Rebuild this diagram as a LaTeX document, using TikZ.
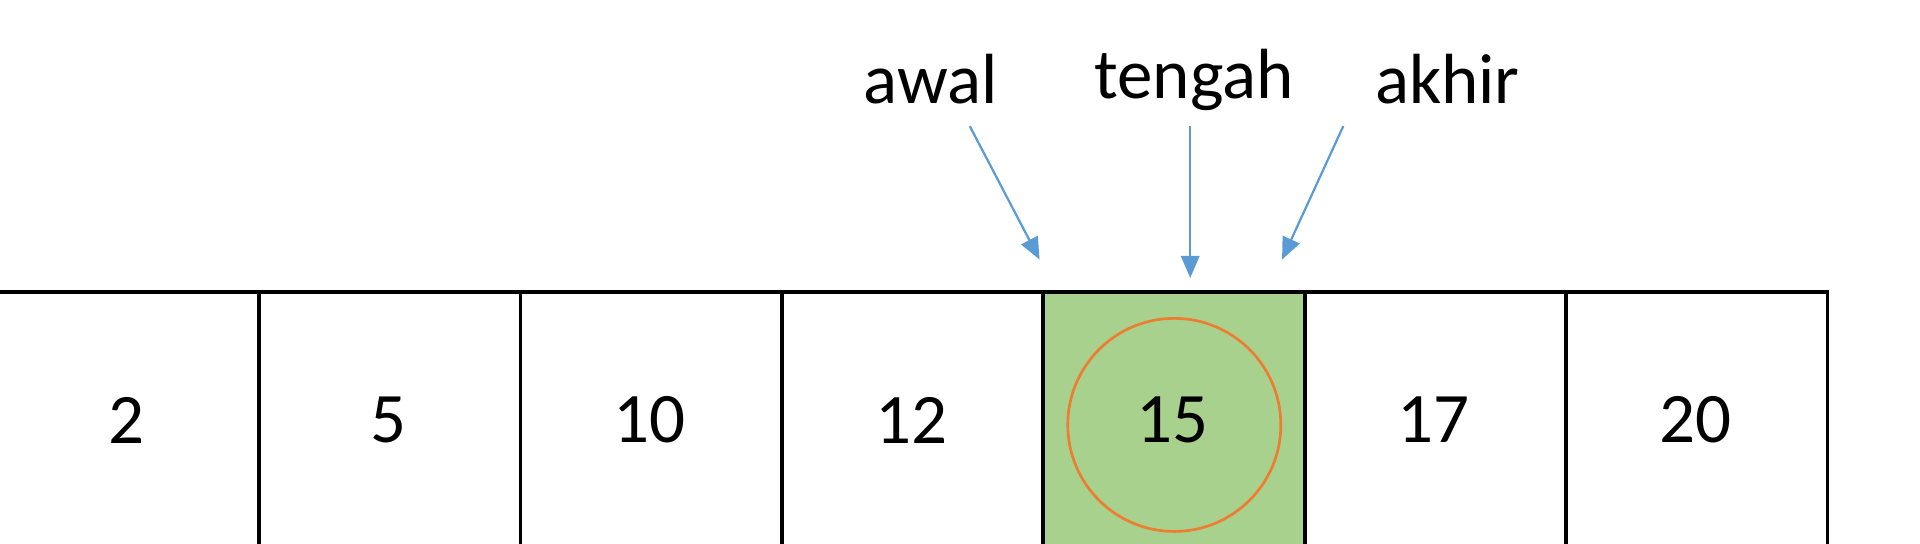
\documentclass[tikz,border=0pt]{standalone}
\usepackage{fontspec}
\setmainfont{Carlito}
\usetikzlibrary{arrows.meta}
\definecolor{cgreen}{RGB}{169,209,142}
\definecolor{corange}{RGB}{237,125,49}
\definecolor{cblue}{RGB}{91,155,213}
\begin{document}
\begin{tikzpicture}[x=1pt,y=-1pt,
  cell/.style={draw=black,line width=3pt,minimum width=213.5pt,minimum height=240pt,anchor=north west,inner sep=0pt},
  lbl/.style={font=\fontsize{58}{64}\selectfont},
  ptr/.style={draw=cblue,line width=1.8pt,-{Triangle[length=18pt,width=15pt]}}]
\useasboundingbox (0,0) rectangle (1568,444);
\clip (0,0) rectangle (1568,444);
\fill[white] (0,0) rectangle (1568,444);
\foreach \v [count=\i from 0] in {2,5,10,12,15,17,20}{
  \ifnum\i=4
    \node[cell,fill=cgreen] (c\i) at (\i*213.5-3.5,237) {};
  \else
    \node[cell] (c\i) at (\i*213.5-3.5,237) {};
  \fi
}
\draw[corange,line width=2.2pt] (959,347) circle (87);
\foreach \v [count=\i from 0] in {2,5,10,12,15,17,20}
  \node[lbl] (n\i) at (\i*213.5+103.5,343) {\v};
\node[lbl] (awal) at (760,65) {awal};
\node[lbl] (tengah) at (975,65) {tengah};
\node[lbl] (akhir) at (1182,65) {akhir};
\coordinate (pa) at (849,212);
\coordinate (pt) at (972,227);
\coordinate (pk) at (1047,212);
\draw[ptr] (792,103) -- (pa);
\draw[ptr] (972,103) -- (pt);
\draw[ptr] (1097,103) -- (pk);
\end{tikzpicture}
\end{document}
